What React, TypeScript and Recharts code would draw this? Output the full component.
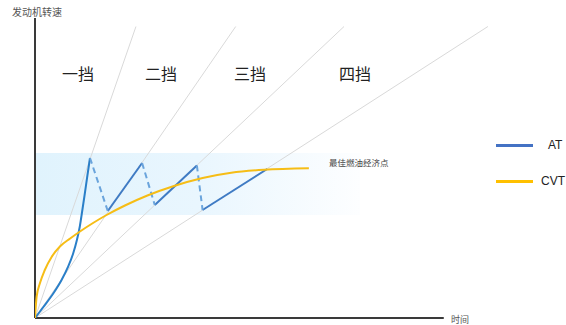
import React from 'react';
import { LineChart, Line, XAxis, YAxis, ReferenceArea, ReferenceLine } from 'recharts';

// time on x (0-100 drawn axis), engine rpm on y
const gearNames = ['一挡', '二挡', '三挡', '四挡'];
const gearLineEndT = [24.7, 49.1, 75.6, 110.8];
const gearLineEndRpm = 5830;

// AT: first gear ramp, then shift peaks / lows along gear lines
const atGear1 = [
  { t: 0, rpm: 0 },
  { t: 2.0, rpm: 215 },
  { t: 4.5, rpm: 494 },
  { t: 6.5, rpm: 760 },
  { t: 8.1, rpm: 1026 },
  { t: 9.35, rpm: 1294 },
  { t: 10.25, rpm: 1560 },
  { t: 10.95, rpm: 1826 },
  { t: 11.55, rpm: 2140 },
  { t: 12.1, rpm: 2440 },
  { t: 12.75, rpm: 2810 },
  { t: 13.45, rpm: 3200 },
];
const atPeaks = [
  { t: 13.45, rpm: 3200 },
  { t: 26.2, rpm: 3100 },
  { t: 39.6, rpm: 3050 },
  { t: 56.8, rpm: 2980 },
];
const atLows = [
  { t: 17.8, rpm: 2140 },
  { t: 29.3, rpm: 2260 },
  { t: 41.0, rpm: 2160 },
];

const cvtT = [0, 0.4, 1.2, 2.4, 4.1, 6.1, 8.6, 11, 14, 17.5, 22, 27.5, 34, 41, 48, 56, 67];
const cvtRpm = [0, 426, 694, 960, 1226, 1430, 1590, 1730, 1890, 2060, 2250, 2450, 2640, 2800, 2905, 2965, 2995];
const cvtData = cvtT.map((t, i) => ({ t, rpm: cvtRpm[i] }));

// best economy band
const bandT = [0, 79.5];
const bandRpm = [2060, 3300];

const cjk = '"Noto Sans CJK SC", sans-serif';
const latin = '"Liberation Sans", Arial, sans-serif';

const abs = (left: number, top: number, extra: React.CSSProperties = {}): React.CSSProperties => ({
  position: 'absolute',
  left,
  top,
  whiteSpace: 'nowrap',
  ...extra,
});

export default function App() {
  return (
    <div style={{ position: 'absolute', left: 0, top: 0, width: 566, height: 325, background: '#fff', overflow: 'hidden' }}>
      <LineChart width={566} height={325} margin={{ top: 18, right: 65, bottom: 7, left: 35 }}>
        <defs>
          <linearGradient id="band" x1="0" y1="0" x2="1" y2="0">
            <stop offset="0%" stopColor="#e0f3fd" />
            <stop offset="50%" stopColor="#e9f6fe" />
            <stop offset="100%" stopColor="#fdfeff" />
          </linearGradient>
        </defs>
        <XAxis type="number" dataKey="t" domain={[0, 114]} hide allowDataOverflow />
        <YAxis type="number" dataKey="rpm" domain={[0, 6000]} hide allowDataOverflow />
        <ReferenceArea
          x1={bandT[0]}
          x2={bandT[1]}
          y1={bandRpm[0]}
          y2={bandRpm[1]}
          fill="url(#band)"
          fillOpacity={1}
          stroke="none"
        />
        {gearLineEndT.map((end, i) => (
          <Line
            key={'g' + i}
            data={[{ t: 0, rpm: 0 }, { t: end, rpm: gearLineEndRpm }]}
            dataKey="rpm"
            stroke="#d9d9d9"
            strokeWidth={1}
            dot={false}
            isAnimationActive={false}
          />
        ))}
        <ReferenceLine segment={[{ x: 0, y: 0 }, { x: 0, y: 6000 }]} stroke="#3a3a3a" strokeWidth={2} />
        <ReferenceLine segment={[{ x: 0, y: 0 }, { x: 100, y: 0 }]} stroke="#3a3a3a" strokeWidth={2} />
        <Line data={atGear1} dataKey="rpm" type="monotone" stroke="#2a7fc8" strokeWidth={2} dot={false} isAnimationActive={false} />
        {atLows.map((low, i) => (
          <Line
            key={'s' + i}
            data={[low, atPeaks[i + 1]]}
            dataKey="rpm"
            stroke="#3f7bc4"
            strokeWidth={2}
            dot={false}
            isAnimationActive={false}
          />
        ))}
        {atLows.map((low, i) => (
          <Line
            key={'d' + i}
            data={[atPeaks[i], low]}
            dataKey="rpm"
            stroke="#6aa4dc"
            strokeWidth={2}
            strokeDasharray="6 4"
            dot={false}
            isAnimationActive={false}
          />
        ))}
        <Line data={cvtData} dataKey="rpm" type="monotone" stroke="#f6bd16" strokeWidth={2} dot={false} isAnimationActive={false} />
      </LineChart>

      <div style={abs(12, 5, { fontFamily: cjk, fontSize: 10, lineHeight: '14px', color: '#555' })}>发动机转速</div>
      <div style={abs(451, 315, { fontFamily: cjk, fontSize: 9, lineHeight: '10px', color: '#555' })}>时间</div>
      {gearNames.map((g, i) => (
        <div key={g} style={abs([62, 145, 234, 339][i], 61, { fontFamily: cjk, fontSize: 16, color: '#222' })}>
          {g}
        </div>
      ))}
      <div style={abs(329, 156, { fontFamily: cjk, fontSize: 8.5, color: '#444' })}>最佳燃油经济点</div>

      <div style={abs(496, 144, { width: 37, height: 3, background: '#4472c4' })} />
      <div style={abs(548, 138, { fontFamily: latin, fontSize: 12, color: '#222' })}>AT</div>
      <div style={abs(496, 180, { width: 37, height: 3, background: '#ffc000' })} />
      <div style={abs(541, 174, { fontFamily: latin, fontSize: 12, color: '#222' })}>CVT</div>
    </div>
  );
}
